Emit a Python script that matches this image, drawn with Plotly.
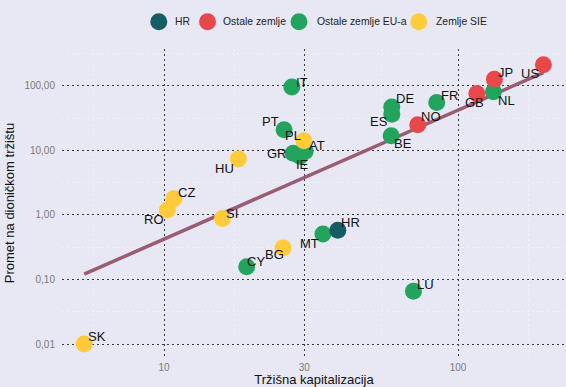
import numpy as np
import plotly.graph_objects as go

# ---- data ----
countries = ["IT", "PT", "GR", "IE", "AT", "DE", "ES", "BE", "FR", "NL", "CY", "MT", "LU",
             "NO", "GB", "JP", "US",
             "SK", "RO", "CZ", "HU", "SI", "BG", "PL",
             "HR"]
groups = (["Ostale zemlje EU-a"] * 13 + ["Ostale zemlje"] * 4 + ["Zemlje SIE"] * 7 + ["HR"])
market_cap = [27.2, 25.6, 27.5, 29.0, 30.2, 59.5, 59.5, 59.2, 84.6, 131.9, 19.1, 34.7, 70.5,
              72.9, 115.8, 132.9, 195.0,
              5.35, 10.26, 10.8, 17.9, 15.8, 25.4, 29.9,
              39.0]
turnover = [95.5, 20.8, 9.0, 8.1, 9.7, 47.0, 36.2, 16.8, 55.3, 80.9, 0.158, 0.505, 0.066,
            24.9, 76.2, 126.8, 212.7,
            0.01, 1.19, 1.78, 7.35, 0.88, 0.307, 14.1,
            0.58]

legend_order = ["HR", "Ostale zemlje", "Ostale zemlje EU-a", "Zemlje SIE"]
draw_order = ["Ostale zemlje EU-a", "Ostale zemlje", "Zemlje SIE", "HR"]

x_ticks = [10, 30, 100]
x_ticktext = ["10", "30", "100"]
y_ticks = [0.01, 0.1, 1, 10, 100]
y_ticktext = ["0,01", "0,10", "1,00", "10,00", "100,00"]

# ---- styles ----
colors = {"HR": "#145E63", "Ostale zemlje": "#E8484A",
          "Ostale zemlje EU-a": "#22A45D", "Zemlje SIE": "#FFCB3A"}
# legend key centre and label start (px from left)
legend_key_px = {"HR": 158.8, "Ostale zemlje": 207.5, "Ostale zemlje EU-a": 299.0, "Zemlje SIE": 418.8}
legend_txt_px = {"HR": 174.4, "Ostale zemlje": 222.0, "Ostale zemlje EU-a": 316.0, "Zemlje SIE": 435.0}
legend_py = 21.7
label_shift = {  # pixel offsets of each label from its point (dx right, dy down)
    "SK": (13, -8), "RO": (-13, 9), "CZ": (13, -6), "HU": (-14, 9), "SI": (10, -5),
    "CY": (9, -5), "BG": (-9, 6), "MT": (-13, 9), "HR": (13, -8), "LU": (12, -7),
    "IT": (10, -5), "PT": (-14, -8), "PL": (-11, -5), "GR": (-16, 0), "AT": (12, -6),
    "IE": (2, 8), "DE": (13, -8), "ES": (-13, 7), "BE": (12, 8), "NO": (13, -8),
    "FR": (13, -7), "GB": (-2, 9), "JP": (11, -7), "NL": (13, 9), "US": (-13, 9),
}
BG = "#E7E8F4"
FONT = "Arial, Liberation Sans, sans-serif"
W, H = 566, 387
ML, MR, MT, MB = 62, 0, 49, 30
PW, PH = W - ML - MR, H - MT - MB

fig = go.Figure()

# regression line fitted in log-log space
lx = np.log10(market_cap)
ly = np.log10(turnover)
slope, intercept = np.polyfit(lx, ly, 1)
fx = np.array([lx.min(), lx.max()])
fig.add_trace(go.Scatter(x=10 ** fx, y=10 ** (intercept + slope * fx), mode="lines",
                         line=dict(color="#9B5B73", width=3.5), showlegend=False,
                         hoverinfo="skip"))

for g in draw_order:
    idx = [i for i, gg in enumerate(groups) if gg == g]
    fig.add_trace(go.Scatter(
        x=[market_cap[i] for i in idx], y=[turnover[i] for i in idx],
        text=[countries[i] for i in idx], mode="markers", name=g, showlegend=False,
        marker=dict(size=17, color=colors[g], line=dict(width=0)),
    ))

for c, x, y in zip(countries, market_cap, turnover):
    dx, dy = label_shift[c]
    fig.add_annotation(x=np.log10(x), y=np.log10(y), xref="x", yref="y", text=c,
                       showarrow=False, xshift=dx, yshift=-dy,
                       font=dict(family=FONT, size=13, color="#111111"))

# legend (keys + labels) above the plot
ly_paper = (H - MB - legend_py) / PH
for g in legend_order:
    fig.add_shape(type="circle", xref="paper", yref="paper", xsizemode="pixel",
                  ysizemode="pixel", xanchor=(legend_key_px[g] - ML) / PW, yanchor=ly_paper,
                  x0=-8.5, x1=8.5, y0=-8.5, y1=8.5,
                  fillcolor=colors[g], line=dict(width=0), layer="above")
    fig.add_annotation(x=(legend_txt_px[g] - ML) / PW, y=ly_paper, xref="paper", yref="paper",
                       text=g, showarrow=False, xanchor="left", yanchor="middle",
                       xshift=-1, font=dict(family=FONT, size=10.4, color="#222222"))

grid_major = dict(showgrid=True, gridcolor="#3a3a3a", gridwidth=1, griddash="2px,3px")

fig.update_layout(
    width=W, height=H,
    margin=dict(l=ML, r=MR, t=MT, b=MB),
    paper_bgcolor=BG, plot_bgcolor=BG,
    font=dict(family=FONT, color="#222222"),
    showlegend=False,
    xaxis=dict(type="log", range=[0.653, 2.367], tickvals=x_ticks, ticktext=x_ticktext,
               tickfont=dict(size=10, color="#7a7a7a"), ticks="", zeroline=False,
               showline=False, ticklabelstandoff=3,
               title=dict(text="Tržišna kapitalizacija", font=dict(size=13, color="#111111"),
                          standoff=3),
               minor=dict(showgrid=True, gridcolor="#F0F1F9", gridwidth=1,
                          tickvals=[10 ** 0.7614, 10 ** 1.2386, 10 ** 1.7386, 10 ** 2.2386]),
               **grid_major),
    yaxis=dict(type="log", range=[-2.2, 2.57], tickvals=y_ticks, ticktext=y_ticktext,
               tickfont=dict(size=10, color="#7a7a7a"), ticks="", zeroline=False,
               showline=False, ticklabelstandoff=6,
               title=dict(text="Promet na dioničkom tržištu", font=dict(size=13, color="#111111"),
                          standoff=6),
               minor=dict(showgrid=True, gridcolor="#F0F1F9", gridwidth=1,
                          tickvals=[10 ** -1.5, 10 ** -0.5, 10 ** 0.5, 10 ** 1.5, 10 ** 2.5]),
               **grid_major),
)

fig.write_html("out.html")
